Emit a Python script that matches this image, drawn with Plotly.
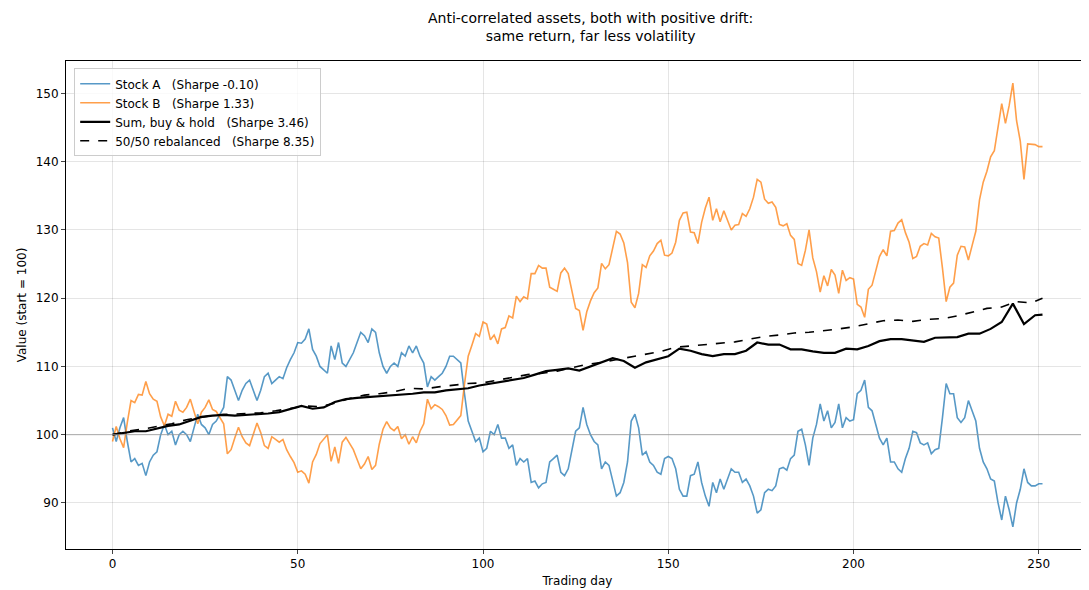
import plotly.graph_objects as go

days = list(range(252))
stock_a = [101,99,101,102.5,99,96,96.5,95.5,95.8,94,96,97,97.5,100,101.5,100,100.5,98.5,100,100.5,
100,99,101,103,101.5,101,100,101.5,102,103,104,108.5,108,106.5,105,106.5,107.5,108,106.5,105,
106.5,108.5,109,107.5,108,108.5,108.2,109.8,111,112,113.5,113.4,114,115.5,112.5,111.5,110,109.5,109,113,
111,113.5,110.5,110,111,112,113.5,115,114.5,113.5,115.5,115,112,110,109,110,110.5,110,112,111.5,
113,112,113,111.5,110.5,107,108.5,108,108.5,109,110,111.5,111.5,111,110.5,106,102,100.5,99,99.5,
97.5,98,100.5,100,101.5,99.5,99.5,98,98.5,95.5,96.5,96,96.5,93,93.2,92.2,92.8,93,96,96.5,
97,94.5,94,95,98,100.5,101,104,101.5,100,99,98.5,95,96,95.5,93,91,91.5,93,96,
102,103,101,97,97.5,96,95.5,94.5,94.2,96.5,96.8,96.5,95,92,91,91,94,94.2,96,93,
91,89.5,93,91.5,93.5,92,93.5,95,94.5,94.5,93,93.5,92.5,91,88.5,89,91.5,92,91.8,92.5,
95,95.2,94.8,96.5,97,100.5,100.8,98.5,95.5,99.5,101.5,104.5,102,103.5,101,101.8,104.5,101,102.5,102,
102.2,106,106.5,108,104,103.5,101.5,99.5,98.5,99.5,96,96,95,94.5,96.5,98,100.5,100.3,98.8,98.5,
98.8,97.2,97.8,98,102.5,107.5,106,106,102.5,101.8,102.5,105,103.5,102,98,96,95,93.5,93.2,90,
87.5,91,89,86.5,90,92,95,93,92.5,92.5,92.8,92.8]
stock_b = [99,101.2,99.4,98.1,101.8,105,104.7,105.9,105.8,107.8,106,105.2,104.9,102.6,101.3,103,102.7,104.9,103.6,103.3,
104,105.2,103.4,101.6,103.3,104,105.1,103.7,103.4,102.5,101.6,97.2,97.8,99.5,101.1,99.7,98.8,98.4,100.1,101.7,
100.3,98.4,98,99.7,99.3,98.9,99.3,97.8,96.8,95.9,94.5,94.7,94.2,92.9,96,97.1,98.7,99.3,100,96.1,
98.2,95.8,98.9,99.6,98.7,97.8,96.4,95,95.7,96.8,94.9,95.5,98.6,100.8,101.9,101,100.6,101.2,99.4,100,
98.6,99.7,98.8,100.5,101.6,105.2,103.8,104.4,104.1,103.7,102.8,101.4,101.5,102.2,102.8,107.4,111.5,113.1,114.8,114.4,
116.5,116.2,113.9,114.6,113.3,115.5,115.7,117.4,117.1,120.3,119.5,120.2,119.9,123.6,123.6,124.8,124.4,124.4,121.6,121.3,
121,123.7,124.4,123.6,120.8,118.5,118.2,115.3,118,119.6,120.8,121.5,125.1,124.3,124.9,127.6,129.8,129.4,128.1,125.2,
119.4,118.6,120.7,124.9,124.5,126.2,126.9,128,128.5,126.3,126.2,126.6,128.2,131.4,132.5,132.6,129.7,129.6,128,131.1,
133.2,134.8,131.4,133.1,131.2,132.8,131.4,130,130.7,130.8,132.4,132,133.1,134.8,137.4,137,134.5,133.9,134.1,133.3,
130.8,130.6,130.9,129.2,128.6,125.1,124.8,127,130,125.9,123.9,120.9,123.3,121.8,124.2,123.4,120.7,124.1,122.6,123,
122.8,119.1,118.7,117.2,121.3,121.9,124,126.1,127.1,126.2,129.8,129.9,131,131.5,129.6,128.2,125.8,126.1,127.6,128,
127.8,129.5,129,128.8,124.4,119.5,121.6,122.2,126.3,127.6,127.5,125.6,127.7,129.8,134.4,137,138.6,140.7,141.6,145.4,
148.5,145.6,148.2,151.5,146,143,137.4,142.6,142.5,142.5,142.2,142.2]

bh_days = list(range(0, 252, 3)) + [251]
buy_hold = [100,100.3,100.5,100.5,100.9,101.3,101.5,102,102.6,102.8,
102.9,102.8,102.9,102.9,103.1,103.3,103.8,104.2,103.8,104,
104.8,105.2,105.4,105.5,105.6,105.8,105.9,106,106.2,106.2,
106.5,106.6,106.8,107.2,107.5,107.8,108,108.3,108.8,109.3,
109.5,109.7,109.4,110,110.6,111.2,110.8,109.8,110.6,111,
111.5,112.6,112.3,111.8,111.5,111.8,111.8,112.3,113.5,113.2,
113.2,112.5,112.5,112.2,112,112,112.6,112.5,113,113.7,
114,114,113.8,113.6,114.2,114.2,114.3,114.8,114.8,115.5,
116.5,119.2,116.2,117.5,117.6]

reb_days = list(range(0, 252, 4)) + [251]
rebalanced = [100,100.5,100.8,101.2,101.6,102.2,102.6,102.9,103,103.1,103.2,103.5,103.8,104.2,104.1,104.6,
105.3,105.8,106,106.3,106.8,106.7,107,107.3,107.5,107.6,108,108.5,108.8,109,109.3,109.8,
110.3,110.6,111,111.3,111.8,112.2,112.8,113,113.2,113.5,113.6,114,114.4,114.6,114.9,115,
115.2,115.5,115.8,116.2,116.7,116.8,116.6,116.9,117,117.4,118,118.5,118.7,119.5,119.3,120,120.2]

fig = go.Figure()
fig.add_hline(y=100, line=dict(color="#999999", width=0.8))
fig.add_trace(go.Scatter(x=days, y=stock_a, mode="lines", name="Stock A   (Sharpe -0.10)",
                         line=dict(color="#1f77b4", width=1.6), opacity=0.75))
fig.add_trace(go.Scatter(x=days, y=stock_b, mode="lines", name="Stock B   (Sharpe 1.33)",
                         line=dict(color="#ff7f0e", width=1.6), opacity=0.75))
fig.add_trace(go.Scatter(x=bh_days, y=buy_hold, mode="lines", name="Sum, buy &amp; hold   (Sharpe 3.46)",
                         line=dict(color="black", width=2.2)))
fig.add_trace(go.Scatter(x=reb_days, y=rebalanced, mode="lines", name="50/50 rebalanced   (Sharpe 8.35)",
                         line=dict(color="black", width=1.6, dash="dash")))

ax = dict(showline=True, linecolor="black", mirror=True, ticks="outside", ticklen=4,
          showgrid=True, gridcolor="rgba(0,0,0,0.1)", zeroline=False, tickfont=dict(size=12))
fig.update_layout(
    width=1089, height=590, plot_bgcolor="white", paper_bgcolor="white",
    font=dict(family="DejaVu Sans", size=12, color="black"),
    margin=dict(l=58, r=8, t=53, b=49),
    title=dict(text="Anti-correlated assets, both with positive drift:<br>same return, far less volatility",
               x=0.535, xanchor="center", y=0.975, yanchor="top", font=dict(size=14)),
    xaxis=dict(ax, range=[-12.55, 263.55], tickvals=[0, 50, 100, 150, 200, 250],
               title=dict(text="Trading day", standoff=6, font=dict(size=12))),
    yaxis=dict(ax, range=[83.25, 154.75], tickvals=[90, 100, 110, 120, 130, 140, 150],
               title=dict(text="Value (start = 100)", standoff=6, font=dict(size=12))),
    legend=dict(x=0.008, y=0.985, xanchor="left", yanchor="top", bgcolor="rgba(255,255,255,0.8)",
                bordercolor="#cccccc", borderwidth=1, font=dict(size=12)),
)
fig.write_html("out.html")
